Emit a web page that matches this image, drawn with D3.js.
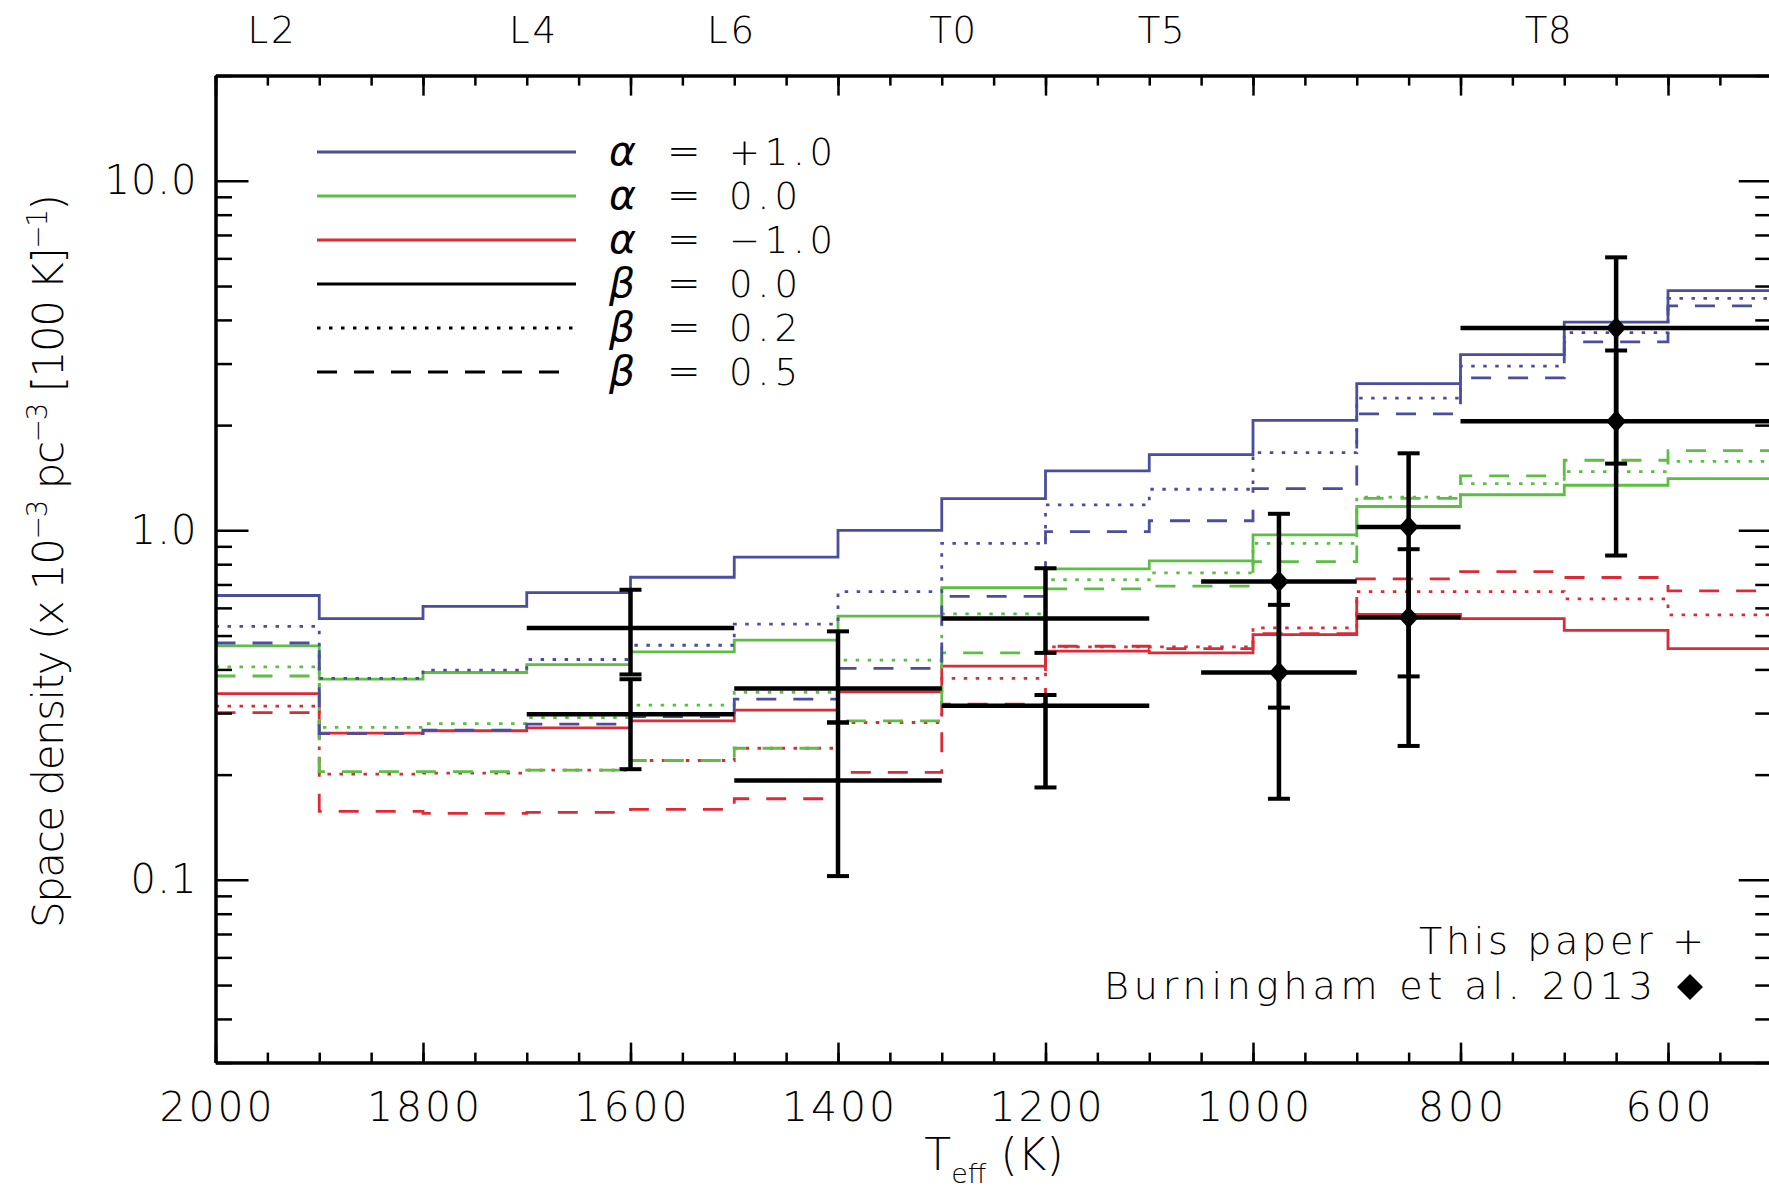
<!DOCTYPE html>
<html>
<head>
<meta charset="utf-8">
<script src="https://cdn.jsdelivr.net/npm/d3@7"></script>
<style>
  body { margin: 0; background: #fff; }
  svg { display: block; }
  text { font-family: "DejaVu Sans", sans-serif; font-weight: 300; fill: #000; }
</style>
</head>
<body>
<script>
// histogram bins: left edge of each 100 K bin, last bin closes at 500 K
const binStart = [2000, 1900, 1800, 1700, 1600, 1500, 1400, 1300, 1200, 1100, 1000, 900, 800, 700, 600];
const binEnd = 500;

// simulated space densities, alpha = +1.0
const aPlus1Beta00 = [0.651, 0.559, 0.606, 0.663, 0.734, 0.838, 1.00, 1.233, 1.479, 1.646, 2.063, 2.63, 3.18, 3.94, 4.85];
const aPlus1Beta02 = [0.531, 0.377, 0.398, 0.427, 0.469, 0.539, 0.668, 0.918, 1.183, 1.311, 1.668, 2.39, 2.95, 3.68, 4.61];
const aPlus1Beta05 = [0.476, 0.262, 0.268, 0.279, 0.293, 0.329, 0.403, 0.647, 0.991, 1.065, 1.317, 2.155, 2.73, 3.46, 4.39];
// alpha = 0.0
const aZeroBeta00 = [0.467, 0.375, 0.392, 0.413, 0.449, 0.485, 0.568, 0.685, 0.776, 0.818, 0.970, 1.170, 1.264, 1.346, 1.406];
const aZeroBeta02 = [0.407, 0.273, 0.280, 0.291, 0.316, 0.344, 0.425, 0.577, 0.722, 0.756, 0.918, 1.245, 1.361, 1.473, 1.576];
const aZeroBeta05 = [0.383, 0.204, 0.204, 0.206, 0.2195, 0.238, 0.285, 0.446, 0.680, 0.692, 0.814, 1.235, 1.431, 1.587, 1.690];
// alpha = -1.0
const aMinus1Beta00 = [0.341, 0.263, 0.267, 0.272, 0.285, 0.306, 0.345, 0.409, 0.451, 0.446, 0.503, 0.575, 0.559, 0.517, 0.459];
const aMinus1Beta02 = [0.314, 0.2006, 0.202, 0.206, 0.2195, 0.238, 0.282, 0.377, 0.464, 0.464, 0.526, 0.668, 0.668, 0.637, 0.573];
const aMinus1Beta05 = [0.301, 0.157, 0.155, 0.156, 0.159, 0.1706, 0.203, 0.318, 0.466, 0.459, 0.506, 0.726, 0.762, 0.733, 0.671];

// measured densities (0 = this paper, 1 = Burningham et al. 2013)
const ptSource = [0, 0, 0, 0, 0, 0, 1, 1, 1, 1, 1, 1];
const ptTeff   = [1600, 1600, 1400, 1400, 1200, 1200, 975, 975, 850, 850, 650, 650];
const ptFrom   = [1700, 1700, 1500, 1500, 1300, 1300, 1050, 1050, 900, 900, 800, 800];
const ptTo     = [1500, 1500, 1300, 1300, 1100, 1100, 900, 900, 800, 800, 500, 500];
const ptValue  = [0.5256, 0.2975, 0.3528, 0.1925, 0.559, 0.315, 0.714, 0.392, 1.022, 0.5635, 3.79, 2.053];
const ptLow    = [0.387, 0.2073, 0.282, 0.1025, 0.446, 0.1838, 0.311, 0.1706, 0.382, 0.2416, 1.552, 0.847];
const ptHigh   = [0.676, 0.375, 0.514, 0.282, 0.779, 0.338, 1.115, 0.612, 1.661, 0.883, 6.04, 3.27];

// axis ticks and labels
const xMajor = [2000, 1800, 1600, 1400, 1200, 1000, 800, 600];
const xMinor = d3.range(2000, 499, -50);
const yMajor = [0.1, 1, 10];
const yMinor = [0.03, 0.04, 0.05, 0.06, 0.07, 0.08, 0.09, 0.2, 0.3, 0.4, 0.5, 0.6, 0.7, 0.8, 0.9, 2, 3, 4, 5, 6, 7, 8, 9, 20];
const spTeff = [1947, 1695, 1504, 1290, 1089, 716];
const spLabels = ["L2", "L4", "L6", "T0", "T5", "T8"];

const legendSym = ["α", "α", "α", "β", "β", "β"];
const legendVal = ["+1.0", "0.0", "−1.0", "0.0", "0.2", "0.5"];

const blue = "#4b4e9e", green = "#5cbe43", red = "#dc2b36";
const dotted = "3.5,8.5", dashed = "20,17";

const W = 1769, H = 1190;
const pL = 215.5, pR = 1771.75, pT = 75.6, pB = 1062.6;

const svg = d3.select("body").append("svg")
  .attr("width", W)
  .attr("height", H);

const x = d3.scaleLinear().domain([2000, 500]).range([pL, pR]);
const y = d3.scaleLog().domain([0.03, 20]).range([pB, pT]);

// histograms
const series = [
  { v: aMinus1Beta05, c: red, d: dashed },
  { v: aMinus1Beta02, c: red, d: dotted },
  { v: aMinus1Beta00, c: red, d: null },
  { v: aZeroBeta05, c: green, d: dashed },
  { v: aZeroBeta02, c: green, d: dotted },
  { v: aZeroBeta00, c: green, d: null },
  { v: aPlus1Beta05, c: blue, d: dashed },
  { v: aPlus1Beta02, c: blue, d: dotted },
  { v: aPlus1Beta00, c: blue, d: null }
];

const step = d3.line()
  .x(d => x(d[0]))
  .y(d => y(d[1]))
  .curve(d3.curveStepAfter);

svg.append("g").selectAll("path").data(series)
  .join("path")
  .attr("d", s => step(binStart.map((t, i) => [t, s.v[i]]).concat([[binEnd, s.v[s.v.length - 1]]])))
  .attr("fill", "none")
  .attr("stroke", s => s.c)
  .attr("stroke-width", 2.8)
  .attr("stroke-dasharray", s => s.d);

// error bars
const pts = ptValue.map((v, i) => ({
  src: ptSource[i], t: ptTeff[i], from: ptFrom[i], to: ptTo[i], v: v, lo: ptLow[i], hi: ptHigh[i]
}));

const eb = svg.append("g").attr("stroke", "#000").attr("fill", "none");
eb.selectAll(".h").data(pts).join("line")
  .attr("x1", d => x(d.from)).attr("x2", d => x(d.to))
  .attr("y1", d => y(d.v)).attr("y2", d => y(d.v))
  .attr("stroke-width", 4.5);
eb.selectAll(".v").data(pts).join("line")
  .attr("x1", d => x(d.t)).attr("x2", d => x(d.t))
  .attr("y1", d => y(d.lo)).attr("y2", d => y(d.hi))
  .attr("stroke-width", 4.5);
const caps = pts.flatMap(d => [{ t: d.t, v: d.lo }, { t: d.t, v: d.hi }]);
eb.selectAll(".c").data(caps).join("line")
  .attr("x1", d => x(d.t) - 11).attr("x2", d => x(d.t) + 11)
  .attr("y1", d => y(d.v)).attr("y2", d => y(d.v))
  .attr("stroke-width", 4);

const diamond = "M0,-11L10,0L0,11L-10,0Z";
svg.append("g").selectAll("path").data(pts.filter(d => d.src === 1))
  .join("path")
  .attr("d", diamond)
  .attr("transform", d => `translate(${x(d.t)},${y(d.v)})`)
  .attr("fill", "#000");

// axes
const styleAxis = g => {
  g.select(".domain").attr("stroke-width", 3);
  g.selectAll(".tick line").attr("stroke-width", 2.5);
};

svg.append("g").attr("transform", `translate(0,${pB})`)
  .call(d3.axisBottom(x).tickValues(xMinor).tickSize(-10).tickSizeOuter(0).tickFormat(""))
  .call(styleAxis);
svg.append("g").attr("transform", `translate(0,${pB})`)
  .call(d3.axisBottom(x).tickValues(xMajor).tickSize(-20).tickSizeOuter(0).tickPadding(29).tickFormat(d3.format("d")))
  .call(styleAxis)
  .call(g => g.selectAll("text")
    .attr("font-family", null)
    .attr("font-size", 41)
    .attr("textLength", d => d >= 1000 ? 113 : 86));

svg.append("g").attr("transform", `translate(0,${pT})`)
  .call(d3.axisTop(x).tickValues(xMinor).tickSize(-10).tickSizeOuter(0).tickFormat(""))
  .call(styleAxis);
svg.append("g").attr("transform", `translate(0,${pT})`)
  .call(d3.axisTop(x).tickValues(xMajor).tickSize(-20).tickSizeOuter(0).tickFormat(""))
  .call(styleAxis);
svg.append("g").attr("transform", `translate(0,${pT})`)
  .call(d3.axisTop(x).tickValues(spTeff).tickSize(0).tickPadding(33).tickFormat((d, i) => spLabels[i]))
  .call(g => g.select(".domain").remove())
  .call(g => g.selectAll("text").attr("font-family", null).attr("font-size", 37).attr("textLength", 47));

svg.append("g").attr("transform", `translate(${pL},0)`)
  .call(d3.axisLeft(y).tickValues(yMinor).tickSize(-16.5).tickSizeOuter(0).tickFormat(""))
  .call(styleAxis);
svg.append("g").attr("transform", `translate(${pL},0)`)
  .call(d3.axisLeft(y).tickValues(yMajor).tickSize(-33).tickSizeOuter(0).tickPadding(19).tickFormat(d3.format(".1f")))
  .call(styleAxis)
  .call(g => g.selectAll("text")
    .attr("font-family", null)
    .attr("font-size", 40)
    .attr("textLength", d => d >= 10 ? 92 : 66));

svg.append("g").attr("transform", `translate(${pR},0)`)
  .call(d3.axisRight(y).tickValues(yMinor).tickSize(-16.5).tickSizeOuter(0).tickFormat(""))
  .call(styleAxis);
svg.append("g").attr("transform", `translate(${pR},0)`)
  .call(d3.axisRight(y).tickValues(yMajor).tickSize(-33).tickSizeOuter(0).tickFormat(""))
  .call(styleAxis);

// axis titles
const xt = svg.append("text")
  .attr("x", 994).attr("y", 1170)
  .attr("text-anchor", "middle")
  .attr("font-size", 44);
xt.append("tspan").text("T");
xt.append("tspan").attr("font-size", 27).attr("dy", 13).text("eff");
xt.append("tspan").attr("dy", -13).text(" (K)");

const yt = svg.append("text")
  .attr("transform", "translate(63,561) rotate(-90)")
  .attr("text-anchor", "middle")
  .attr("font-size", 42)
  .attr("textLength", 734);
yt.append("tspan").text("Space density (x 10");
yt.append("tspan").attr("font-size", 28).attr("dy", -16).text("−3");
yt.append("tspan").attr("dy", 16).text(" pc");
yt.append("tspan").attr("font-size", 28).attr("dy", -16).text("−3");
yt.append("tspan").attr("dy", 16).text(" [100 K]");
yt.append("tspan").attr("font-size", 28).attr("dy", -16).text("−1");
yt.append("tspan").attr("dy", 16).text(")");

// model legend
const legendColor = [blue, green, red, "#000", "#000", "#000"];
const legendDash = [null, null, null, null, dotted, dashed];
const lg = svg.append("g");
legendSym.forEach((s, i) => {
  const ly = 152 + i * 44;
  lg.append("line")
    .attr("x1", 317).attr("x2", 576)
    .attr("y1", ly).attr("y2", ly)
    .attr("stroke", legendColor[i])
    .attr("stroke-width", 2.8)
    .attr("stroke-dasharray", legendDash[i]);
  lg.append("text")
    .attr("x", 609).attr("y", ly + 13)
    .attr("font-size", 41).attr("font-style", "italic").attr("font-weight", "normal")
    .text(s);
  lg.append("text")
    .attr("x", 667).attr("y", ly + 13)
    .attr("font-size", 40)
    .text("=");
  lg.append("text")
    .attr("x", 729).attr("y", ly + 13)
    .attr("font-size", 37)
    .attr("textLength", legendVal[i].length > 3 ? 104 : 69)
    .text(legendVal[i]);
});

// data legend
svg.append("text")
  .attr("x", 1419).attr("y", 954)
  .attr("font-size", 38)
  .attr("textLength", 285)
  .text("This paper +");
svg.append("text")
  .attr("x", 1104).attr("y", 999)
  .attr("font-size", 38)
  .attr("textLength", 549)
  .text("Burningham et al. 2013");
svg.append("path")
  .attr("d", "M0,-13L13,0L0,13L-13,0Z")
  .attr("transform", "translate(1690,987)")
  .attr("fill", "#000");
</script>
</body>
</html>
